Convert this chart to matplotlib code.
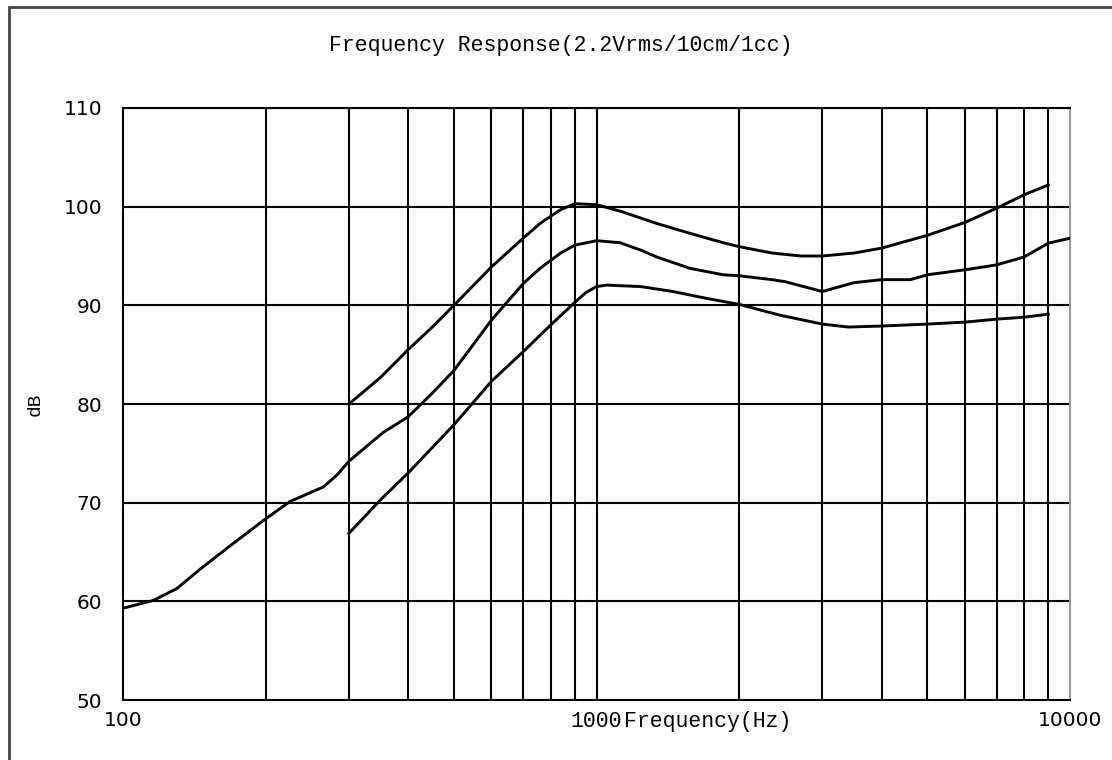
import matplotlib
matplotlib.use("Agg")
import matplotlib.pyplot as plt
from matplotlib.patches import Rectangle

# ---- data ----
upper_f = [300, 350, 400, 450, 500, 600, 700, 760, 840, 900, 1000, 1130, 1340, 1575,
           1850, 2000, 2350, 2700, 3000, 3500, 4000, 5000, 6000, 7000, 8000, 9000]
upper_db = [80.0, 82.7, 85.5, 87.8, 90.0, 93.9, 96.8, 98.3, 99.7, 100.3, 100.2, 99.5,
            98.3, 97.3, 96.35, 95.95, 95.3, 95.0, 95.0, 95.3, 95.8, 97.1, 98.4, 99.85,
            101.2, 102.2]

mid_f = [100, 116, 130, 145, 166, 198, 225, 265, 283, 300, 354, 400, 450, 500, 600,
         700, 760, 840, 900, 1000, 1120, 1240, 1340, 1575, 1850, 2000, 2350, 2500,
         3000, 3500, 4000, 4600, 5000, 6000, 7000, 8000, 9000, 10000]
mid_db = [59.3, 60.1, 61.3, 63.2, 65.4, 68.2, 70.1, 71.6, 72.8, 74.2, 77.1, 78.7,
          81.1, 83.4, 88.5, 92.2, 93.75, 95.3, 96.1, 96.55, 96.35, 95.6, 94.9, 93.75,
          93.1, 93.0, 92.6, 92.4, 91.4, 92.3, 92.6, 92.6, 93.1, 93.6, 94.1, 94.9,
          96.3, 96.8]

lower_f = [300, 350, 400, 500, 600, 700, 800, 900, 950, 1000, 1050, 1240, 1450, 1710,
           2000, 2440, 3000, 3400, 4000, 5000, 6000, 7000, 8000, 9000]
lower_db = [66.9, 70.3, 73.0, 77.9, 82.3, 85.3, 88.0, 90.3, 91.3, 91.9, 92.05, 91.9,
            91.4, 90.7, 90.1, 89.0, 88.1, 87.8, 87.9, 88.1, 88.3, 88.6, 88.8, 89.1]

x_major = [100, 1000, 10000]
x_major_labels = ["100", "1000", "10000"]
x_grid = [200, 300, 400, 500, 600, 700, 800, 900, 1000,
          2000, 3000, 4000, 5000, 6000, 7000, 8000, 9000]
y_ticks = [50, 60, 70, 80, 90, 100, 110]

title = "Frequency Response(2.2Vrms/10cm/1cc)"
xlabel = "Frequency(Hz)"
ylabel = "dB"

MONO = "Liberation Mono"
SANS = "DejaVu Sans"

W, H = 1112, 760
fig = plt.figure(figsize=(W / 100, H / 100), dpi=100)
fig.patch.set_facecolor("white")

ax = fig.add_axes([123 / W, 1 - 700 / H, (1070 - 123) / W, (700 - 108) / H])
ax.set_xscale("log")
ax.set_xlim(100, 10000)
ax.set_ylim(50, 110)

# grid
for v in x_grid:
    ax.axvline(v, color="black", lw=1.5, zorder=1)
for yv in y_ticks[1:]:
    ax.axhline(yv, color="black", lw=1.5, zorder=1)

# curves
for f, d in [(upper_f, upper_db), (mid_f, mid_db), (lower_f, lower_db)]:
    ax.plot(f, d, color="black", lw=2.1, zorder=3, solid_joinstyle="round")

# spines
for s in ["left", "bottom", "top"]:
    ax.spines[s].set_color("black")
    ax.spines[s].set_linewidth(1.5)
ax.spines["right"].set_color("#999999")
ax.spines["right"].set_linewidth(1.5)

# ticks
ax.tick_params(axis="both", which="both", length=0)
ax.set_xticks(x_major)
ax.set_xticks([], minor=True)
ax.set_xticklabels(x_major_labels)
ax.tick_params(axis="x", pad=8)
lbl1000 = None
for lbl in ax.get_xticklabels():
    if lbl.get_text() == "1000":
        lbl.set_fontfamily(MONO)
        lbl.set_fontsize(15.5)
        lbl1000 = lbl
    else:
        lbl.set_fontfamily(SANS)
        lbl.set_fontsize(14.5)
ax.set_yticks(y_ticks)
ax.set_yticklabels([str(v) for v in y_ticks], fontfamily=SANS, fontsize=14.5)
ax.tick_params(axis="y", pad=15)

# x label directly after "1000"
ax.annotate(xlabel, xy=(1, 0), xycoords=lbl1000, xytext=(1, 0),
            textcoords="offset points", fontfamily=MONO, fontsize=15.5,
            ha="left", va="bottom")
# y label
fig.text(35 / W, 1 - 404 / H, ylabel, fontfamily=MONO, fontsize=14,
         rotation=90, ha="center", va="center")
# title
fig.text(561 / W, 1 - 45 / H, title, fontfamily=MONO, fontsize=15.5,
         ha="center", va="center")

# figure border (open to right/bottom)
fig.add_artist(Rectangle((9 / W, -0.1), 1.2, 1 - 7 / H + 0.1,
                         transform=fig.transFigure, fill=False,
                         edgecolor="#444444", lw=2.0))

fig.savefig("out.png", dpi=100, facecolor="white")
